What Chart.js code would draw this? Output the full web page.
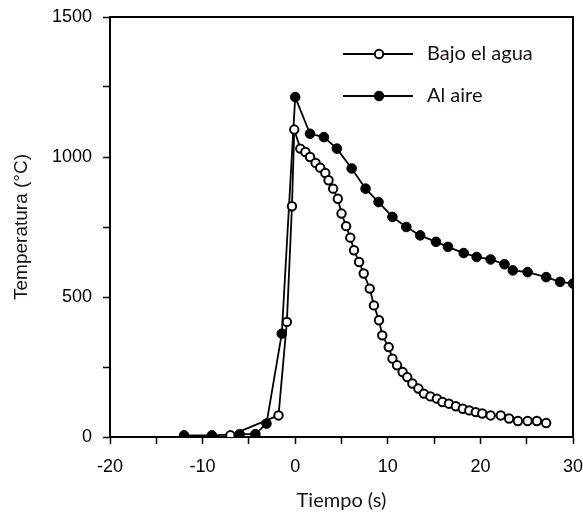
<!DOCTYPE html>
<html>
<head>
<meta charset="utf-8">
<script src="https://cdn.jsdelivr.net/npm/chart.js@4.4.0/dist/chart.umd.min.js"></script>
<style>
  html, body { margin: 0; padding: 0; background: #fff; }
  #wrap { width: 583px; height: 514px; }
</style>
</head>
<body>
<div id="wrap"><canvas id="tempChart"></canvas></div>
<script>
// Tiempo (s) / Temperatura (°C)
const aguaX = [-7, -1.8, -0.9, -0.35, -0.1, 0.55, 1.1, 1.6, 2.2, 2.7, 3.25, 3.6, 4.1, 4.6, 5.0, 5.5,
  5.95, 6.35, 6.9, 7.4, 8.05, 8.5, 9.05, 9.4, 10.1, 10.5, 11.0, 11.6, 12.1, 12.65, 13.3, 13.9,
  14.6, 15.3, 15.9, 16.6, 17.35, 18.1, 18.8, 19.5, 20.2, 21.1, 22.2, 23.1, 24.05, 25.1, 26.1, 27.1];
const aguaY = [6, 77, 411, 824, 1098, 1030, 1018, 1000, 979, 962, 943, 917, 887, 851, 798, 753,
  712, 667, 625, 584, 530, 470, 417, 363, 321, 280, 256, 232, 214, 191, 173, 155,
  145, 137, 125, 119, 110, 101, 95, 89, 84, 77, 77, 66, 57, 57, 57, 50];

const aireX = [-12, -9, -6, -4.3, -3.1, -1.45, 0, 1.6, 3.1, 4.5, 6.1, 7.6, 9.0, 10.5, 12.0, 13.5,
  15.2, 16.5, 18.2, 19.6, 21.1, 22.6, 23.5, 25.1, 27.1, 28.6, 30];
const aireY = [6, 6, 10, 10, 48, 369, 1214, 1083, 1071, 1030, 959, 887, 839, 786, 750, 720,
  697, 679, 657, 643, 634, 617, 595, 589, 571, 554, 548];

const seriesNames = ['Bajo el agua', 'Al aire'];
const xTicks = [-20, -10, 0, 10, 20, 30];
const yTicks = [0, 500, 1000, 1500];

function toPoints(xs, ys) {
    return xs.map((x, i) => ({ x: x, y: ys[i] }));
}

// box on top/right + hand drawn legend
const frameAndLegend = {
    id: 'frameAndLegend',
    afterDatasetsDraw(chart) {
        const ctx = chart.ctx;
        const a = chart.chartArea;
        ctx.save();
        ctx.strokeStyle = '#000';
        ctx.lineWidth = 2;
        ctx.beginPath();
        ctx.moveTo(a.left, a.top);
        ctx.lineTo(a.right, a.top);
        ctx.lineTo(a.right, a.bottom);
        ctx.stroke();

        const rows = [54, 96];
        chart.data.datasets.forEach((ds, i) => {
            const y = rows[i];
            ctx.strokeStyle = ds.borderColor;
            ctx.lineWidth = ds.borderWidth;
            ctx.beginPath();
            ctx.moveTo(343, y);
            ctx.lineTo(413, y);
            ctx.stroke();
            ctx.beginPath();
            ctx.arc(379, y, ds.pointRadius, 0, Math.PI * 2);
            ctx.fillStyle = ds.pointBackgroundColor;
            ctx.fill();
            ctx.lineWidth = ds.pointBorderWidth;
            ctx.strokeStyle = ds.pointBorderColor;
            ctx.stroke();
            ctx.fillStyle = '#1a1010';
            ctx.font = '20px Lato';
            ctx.textBaseline = 'middle';
            ctx.textAlign = 'left';
            ctx.fillText(ds.label, 427, y);
        });
        ctx.restore();
    }
};

const ctx = document.getElementById('tempChart').getContext('2d');
new Chart(ctx, {
    type: 'line',
    data: {
        datasets: [{
            label: seriesNames[0],
            data: toPoints(aguaX, aguaY),
            borderColor: '#000',
            borderWidth: 1.8,
            pointRadius: 4.2,
            pointBackgroundColor: '#fff',
            pointBorderColor: '#000',
            pointBorderWidth: 2,
            tension: 0
        }, {
            label: seriesNames[1],
            data: toPoints(aireX, aireY),
            borderColor: '#000',
            borderWidth: 1.8,
            pointRadius: 4.8,
            pointBackgroundColor: '#000',
            pointBorderColor: '#000',
            pointBorderWidth: 1,
            tension: 0
        }]
    },
    options: {
        responsive: true,
        maintainAspectRatio: false,
        animation: false,
        layout: { padding: { top: 17, right: 10, left: 0, bottom: 0 } },
        plugins: {
            legend: { display: false },
            tooltip: { enabled: false }
        },
        scales: {
            x: {
                type: 'linear',
                min: xTicks[0],
                max: xTicks[xTicks.length - 1],
                afterFit: function(scale) {
                    scale.height = 77;
                    scale.paddingLeft = 0;
                    scale.paddingRight = 0;
                },
                border: { color: '#000', width: 2 },
                grid: { drawOnChartArea: false, drawTicks: true, tickLength: 7, color: '#000', tickWidth: 1.5 },
                ticks: {
                    stepSize: 5,
                    autoSkip: false,
                    maxRotation: 0,
                    padding: 12,
                    color: '#000',
                    font: { family: 'Liberation Sans', size: 18 },
                    callback: v => xTicks.includes(v) ? String(v) : ''
                },
                title: {
                    display: true,
                    text: 'Tiempo (s)',
                    color: '#1a1010',
                    font: { family: 'Lato', size: 20 },
                    padding: { top: 0, bottom: 1 }
                }
            },
            y: {
                min: yTicks[0],
                max: yTicks[yTicks.length - 1],
                afterFit: function(scale) {
                    scale.width = 110;
                    scale.paddingTop = 0;
                    scale.paddingBottom = 0;
                },
                border: { color: '#000', width: 2 },
                grid: { drawOnChartArea: false, drawTicks: true, tickLength: 7, color: '#000', tickWidth: 1.5 },
                ticks: {
                    stepSize: 250,
                    autoSkip: false,
                    padding: 11,
                    color: '#000',
                    font: { family: 'Liberation Sans', size: 18 },
                    callback: v => yTicks.includes(v) ? String(v) : ''
                },
                title: {
                    display: true,
                    text: 'Temperatura (°C)',
                    color: '#1a1010',
                    font: { family: 'Liberation Sans', size: 19 },
                    padding: { top: 10, bottom: 0 }
                }
            }
        }
    },
    plugins: [frameAndLegend]
});
</script>
</body>
</html>
